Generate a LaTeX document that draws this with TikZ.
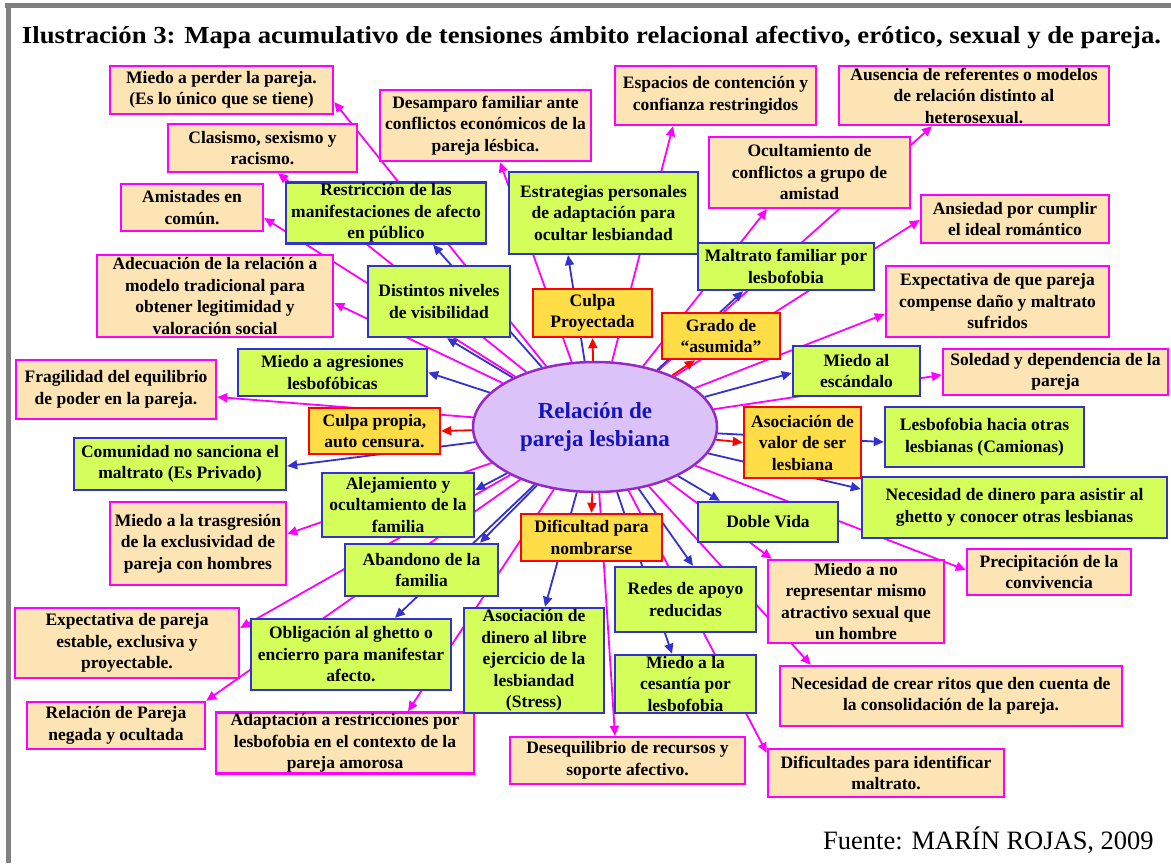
\documentclass[tikz,border=0pt]{standalone}
\usepackage{fontspec}
\setmainfont{Liberation Serif}
\newfontfamily\titlefont[FakeStretch=1.09]{Liberation Serif}
\usetikzlibrary{arrows.meta,shapes.geometric}
\definecolor{beige}{RGB}{253,228,180}
\definecolor{mag}{RGB}{255,0,255}
\definecolor{lime}{RGB}{212,255,90}
\definecolor{bblue}{RGB}{51,51,204}
\definecolor{yel}{RGB}{255,221,70}
\definecolor{rred}{RGB}{255,0,0}
\definecolor{lil}{RGB}{219,195,250}
\definecolor{purp}{RGB}{150,40,200}
\definecolor{framegray}{RGB}{128,128,128}
\definecolor{elltext}{RGB}{20,20,190}
\pgfdeclarelayer{back}
\pgfdeclarelayer{bg}
\pgfsetlayers{back,bg,main}
\newcommand{\mybox}[7]{\node[#1, minimum width={#5-#3}, minimum height={#6-#4}] (#2) at ({(#3+#5)/2},{(#4+#6)/2}) {#7};}
\begin{document}
\begin{tikzpicture}[x=1pt,y=-1pt,
  box/.style={draw, line width=2.4pt, align=center, inner xsep=2pt, inner ysep=1pt,
    font=\fontsize{17.5}{21.5}\selectfont\bfseries},
  tens/.style={box, draw=mag, fill=beige},
  est/.style={box, draw=bblue, fill=lime},
  cul/.style={box, draw=rred, fill=yel},
  conn/.style={line width=1.8pt, -{Triangle[length=10pt,width=9pt]}},
  ma/.style={conn, draw=mag, fill=mag},
  ba/.style={conn, draw=bblue, fill=bblue},
  ra/.style={conn, draw=rred, fill=rred}]
\useasboundingbox (0,0) rectangle (1171,863);
\begin{pgfonlayer}{back}
\fill[white] (0,0) rectangle (1171,863);
\fill[framegray] (5,3) rectangle (1171,7.5);
\fill[framegray] (5.5,3) rectangle (10.5,863);
\end{pgfonlayer}

\node[font=\fontsize{24.5}{28}\titlefont\bfseries, anchor=base] (title) at (591.5,43)
  {Ilustración 3: Mapa acumulativo de tensiones ámbito relacional afectivo, erótico, sexual y de pareja.};
\node[font=\fontsize{26.5}{30}\selectfont, anchor=base] (fuente) at (988.5,849) {Fuente: MARÍN ROJAS, 2009};

\node[ellipse, draw=purp, fill=lil, line width=2.5pt, minimum width=244, minimum height=130,
  inner sep=0pt, align=center, text=elltext, font=\fontsize{23}{28}\selectfont\bfseries]
  (ell) at (595,427) {Relación de\\pareja lesbiana};

% tensions (beige)
\mybox{tens}{mperder}{110}{66}{333}{114}{Miedo a perder la pareja.\\(Es lo único que se tiene)}
\mybox{tens}{clas}{168}{124}{357}{172}{Clasismo, sexismo y\\racismo.}
\mybox{tens}{amis}{121}{184}{263}{231}{Amistades en\\común.}
\mybox{tens}{adec}{97}{255}{333}{337}{Adecuación de la relación a\\modelo tradicional para\\obtener legitimidad y\\valoración social}
\mybox{tens}{desamp}{380}{90}{591}{161}{Desamparo familiar ante\\conflictos económicos de la\\pareja lésbica.}
\mybox{tens}{espac}{615}{66}{816}{125}{Espacios de contención y\\confianza restringidos}
\mybox{tens}{ausen}{839}{66}{1109}{125}{Ausencia de referentes o modelos\\de relación distinto al\\heterosexual.}
\mybox{tens}{ocult}{709}{137}{910}{208}{Ocultamiento de\\conflictos a grupo de\\amistad}
\mybox{tens}{ansied}{921}{195}{1109}{243}{Ansiedad por cumplir\\el ideal romántico}
\mybox{tens}{expc}{886}{266}{1109}{337}{Expectativa de que pareja\\compense daño y maltrato\\sufridos}
\mybox{tens}{soled}{943}{349}{1168}{395}{Soledad y dependencia de la\\pareja}
\mybox{tens}{frag}{16}{360}{216}{419}{Fragilidad del equilibrio\\de poder en la pareja.}
\mybox{tens}{trasg}{110}{502}{286}{585}{Miedo a la trasgresión\\de la exclusividad de\\pareja con hombres}
\mybox{tens}{precip}{967}{549}{1131}{595}{Precipitación de la\\convivencia}
\mybox{tens}{mnr}{768}{560}{944}{643}{Miedo a no\\representar mismo\\atractivo sexual que\\un hombre}
\mybox{tens}{ritos}{780}{666}{1122}{726}{Necesidad de crear ritos que den cuenta de\\la consolidación de la pareja.}
\mybox{tens}{expe}{15}{608}{239}{678}{Expectativa de pareja\\estable, exclusiva y\\proyectable.}
\mybox{tens}{neg}{27}{702}{205}{749}{Relación de Pareja\\negada y ocultada}
\mybox{tens}{adapt}{216}{713}{474}{773}{Adaptación a restricciones por\\lesbofobia en el contexto de la\\pareja amorosa}
\mybox{tens}{deseq}{510}{737}{745}{784}{Desequilibrio de recursos y\\soporte afectivo.}
\mybox{tens}{difid}{768}{749}{1004}{797}{Dificultades para identificar\\maltrato.}

% strategies (green)
\mybox{est}{restr}{286}{184}{486}{242}{Restricción de las\\manifestaciones de afecto\\en público}
\mybox{est}{estr}{509}{172}{698}{254}{Estrategias personales\\de adaptación para\\ocultar lesbiandad}
\mybox{est}{maltr}{698}{243}{874}{290}{Maltrato familiar por\\lesbofobia}
\mybox{est}{dist}{368}{266}{510}{337}{Distintos niveles\\de visibilidad}
\mybox{est}{agres}{238}{349}{427}{396}{Miedo a agresiones\\lesbofóbicas}
\mybox{est}{esc}{793}{346}{920}{396}{Miedo al\\escándalo}
\mybox{est}{com}{74}{438}{286}{490}{Comunidad no sanciona el\\maltrato (Es Privado)}
\mybox{est}{lesb}{885}{407}{1084}{467}{Lesbofobia hacia otras\\lesbianas (Camionas)}
\mybox{est}{alej}{322}{473}{474}{537}{Alejamiento y\\ocultamiento de la\\familia}
\mybox{est}{necd}{862}{477}{1167}{538}{Necesidad de dinero para asistir al\\ghetto y conocer otras lesbianas}
\mybox{est}{doble}{698}{502}{838}{542}{Doble Vida}
\mybox{est}{aband}{345}{544}{498}{596}{Abandono de la\\familia}
\mybox{est}{redes}{615}{567}{756}{632}{Redes de apoyo\\reducidas}
\mybox{est}{oblig}{251}{619}{451}{690}{Obligación al ghetto o\\encierro para manifestar\\afecto.}
\mybox{est}{asdin}{464}{608}{604}{713}{Asociación de\\dinero al libre\\ejercicio de la\\lesbiandad\\(Stress)}
\mybox{est}{cesan}{615}{655}{756}{713}{Miedo a la\\cesantía por\\lesbofobia}

% guilt (yellow)
\mybox{cul}{cproy}{533}{289}{652}{337}{Culpa\\Proyectada}
\mybox{cul}{grado}{662}{313}{780}{359}{Grado de\\“asumida”}
\mybox{cul}{cprop}{309}{408}{440}{454}{Culpa propia,\\auto censura.}
\mybox{cul}{aval}{744}{407}{861}{478}{Asociación de\\valor de ser\\lesbiana}
\mybox{cul}{dific}{521}{514}{662}{561}{Dificultad para\\nombrarse}

\begin{pgfonlayer}{bg}
% magenta
\draw[ma] (ell) -- ([yshift=-12pt]mperder.east);
\draw[ma] (ell) -- ([xshift=15.5pt]clas.south);
\draw[ma] (ell) -- ([yshift=-10.5pt]amis.east);
\draw[ma] (ell) -- ([yshift=-7pt]adec.east);
\draw[ma] (ell) -- ([xshift=14.5pt]desamp.south);
\draw[ma] (ell) -- ([xshift=-42.5pt]espac.south);
\draw[ma] (ell) -- ([xshift=-42pt]ausen.south);
\draw[ma] (ell) -- ([xshift=-42.5pt]ocult.south);
\draw[ma] (ell) -- ([yshift=-1pt]ansied.west);
\draw[ma] (ell) -- ([yshift=-12.5pt]expc.west);
\draw[ma] (ell) -- ([yshift=-3pt]soled.west);
\draw[ma] (ell) -- ([yshift=-7.5pt]frag.east);
\draw[ma] (ell) -- ([yshift=9.5pt]trasg.east);
\draw[ma] (ell) -- ([yshift=2pt]precip.west);
\draw[ma] (ell) -- ([xshift=5pt]mnr.north west);
\draw[ma] (ell) -- ([xshift=32pt]ritos.north west);
\draw[ma] (ell) -- ([yshift=15pt]expe.east);
\draw[ma] (ell) -- (neg.north east);
\draw[ma] (ell) -- ([xshift=63pt]adapt.north);
\draw[ma] (ell) -- ([xshift=-12.5pt]deseq.north);
\draw[ma] (ell) -- ([yshift=-5pt]difid.north west);
% blue
\draw[ba] (ell) -- ([xshift=47pt]restr.south);
\draw[ba] (ell) -- ([xshift=8pt]dist.south);
\draw[ba] (ell) -- ([xshift=-35.5pt]estr.south);
\draw[ba] (ell) -- ([xshift=-43pt]maltr.south);
\draw[ba] (ell) -- (agres.east);
\draw[ba] (ell) -- ([yshift=-2pt]esc.west);
\draw[ba] (ell) -- ([yshift=-2pt]com.east);
\draw[ba] (ell) -- ([yshift=-5pt]lesb.west);
\draw[ba] (ell) -- ([yshift=18.5pt]necd.west);
\draw[ba] (ell) -- ([yshift=15pt]alej.east);
\draw[ba] (ell) -- ([xshift=58.5pt]aband.north);
\draw[ba] (ell) -- ([xshift=-48pt]doble.north);
\draw[ba] (ell) -- ([xshift=7.5pt]redes.north);
\draw[ba] (ell) -- ([xshift=-13.5pt]cesan.north);
\draw[ba] (ell) -- ([xshift=44pt]oblig.north);
\draw[ba] (ell) -- ([xshift=11pt]asdin.north);
% red
\draw[ra] (ell) -- (cproy.south);
\draw[ra] (ell) -- ([xshift=-26pt]grado.south);
\draw[ra] (ell) -- (cprop.east);
\draw[ra] (ell) -- (aval.west);
\draw[ra] (ell) -- (dific.north);
\end{pgfonlayer}
\end{tikzpicture}
\end{document}
